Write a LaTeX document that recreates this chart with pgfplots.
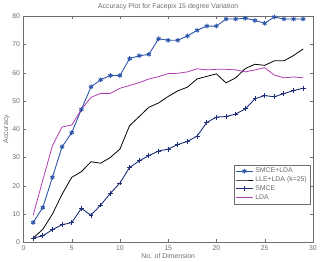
\documentclass[border=0pt]{standalone}
\usepackage{fontspec}
\setmainfont{Liberation Sans}
\usepackage{pgfplots}
\pgfplotsset{compat=1.18}
\definecolor{smcelda}{RGB}{45,85,170}
\definecolor{smce}{RGB}{30,45,120}
\definecolor{lda}{RGB}{175,60,175}
\definecolor{axgray}{RGB}{110,110,110}
\begin{document}
\begin{tikzpicture}
\begin{axis}[
  scale only axis, width=293pt, height=229pt,
  xmin=0, xmax=30, ymin=0, ymax=80,
  xtick={0,5,...,30}, ytick={0,10,...,80},
  tick align=inside, tick pos=both,
  major tick length=3pt,
  axis line style={axgray},
  tick style={axgray},
  every tick label/.append style={font=\fontsize{7}{8}\selectfont, text=axgray},
  /pgf/number format/assume math mode=true,
  title={Accuracy Plot for Facepix 15 degree Variation},
  title style={font=\fontsize{7}{8}\selectfont, text=axgray, yshift=-3pt},
  xlabel={No. of Dimension},
  ylabel={Accuracy},
  xlabel style={font=\fontsize{7}{8}\selectfont, text=axgray, yshift=4pt},
  ylabel style={font=\fontsize{7}{8}\selectfont, text=axgray, yshift=-4pt},
  legend style={at={(rel axis cs:0.99,0.17)}, anchor=south east, font=\fontsize{7}{8}\selectfont, text=axgray, draw=axgray, inner sep=1pt, row sep=-1.5pt},
  legend cell align=left,
]
\addplot[smcelda, line width=0.9pt, mark=asterisk, mark size=2.4pt, mark options={line width=1pt}] coordinates {
(1,7)(2,12.3)(3,23)(4,33.8)(5,38.8)(6,47)(7,55)(8,57.5)(9,59)(10,59)(11,65)(12,66)(13,66.5)(14,72)(15,71.5)(16,71.5)(17,73)(18,75)(19,76.5)(20,76.5)(21,79)(22,79)(23,79.3)(24,78.5)(25,77.5)(26,79.7)(27,79)(28,79)(29,79)};
\addlegendentry{SMCE+LDA}
\addplot[black, line width=0.8pt] coordinates {
(1,1.5)(2,4.6)(3,10)(4,17)(5,23)(6,25)(7,28.5)(8,28)(9,30)(10,33)(11,41.3)(12,44.5)(13,47.8)(14,49.3)(15,51.6)(16,53.6)(17,54.9)(18,57.8)(19,58.7)(20,59.6)(21,56.4)(22,58.2)(23,61.5)(24,63)(25,62.6)(26,64.2)(27,64.2)(28,66.1)(29,68.4)};
\addlegendentry{LLE+LDA (k=25)}
\addplot[smce, line width=0.9pt, mark=+, mark size=2.5pt, mark options={line width=0.9pt}] coordinates {
(1,1.5)(2,2.3)(3,4.5)(4,6.2)(5,7)(6,12)(7,9.6)(8,13.2)(9,17.3)(10,21)(11,26.5)(12,28.8)(13,30.7)(14,32.3)(15,33)(16,34.6)(17,35.7)(18,37.6)(19,42.4)(20,44.3)(21,44.5)(22,45.4)(23,47.2)(24,50.8)(25,51.9)(26,51.5)(27,52.6)(28,53.7)(29,54.5)};
\addlegendentry{SMCE}
\addplot[lda, line width=0.8pt] coordinates {
(1,9.6)(2,22)(3,34.2)(4,40.8)(5,41.5)(6,47)(7,51.3)(8,52.7)(9,52.7)(10,54.5)(11,55.5)(12,56.5)(13,57.8)(14,58.6)(15,59.7)(16,59.8)(17,60.3)(18,61.4)(19,61)(20,61.2)(21,61.2)(22,61)(23,60.3)(24,61)(25,61.8)(26,59.2)(27,58.2)(28,58.5)(29,58.2)};
\addlegendentry{LDA}
\end{axis}
\end{tikzpicture}
\end{document}
